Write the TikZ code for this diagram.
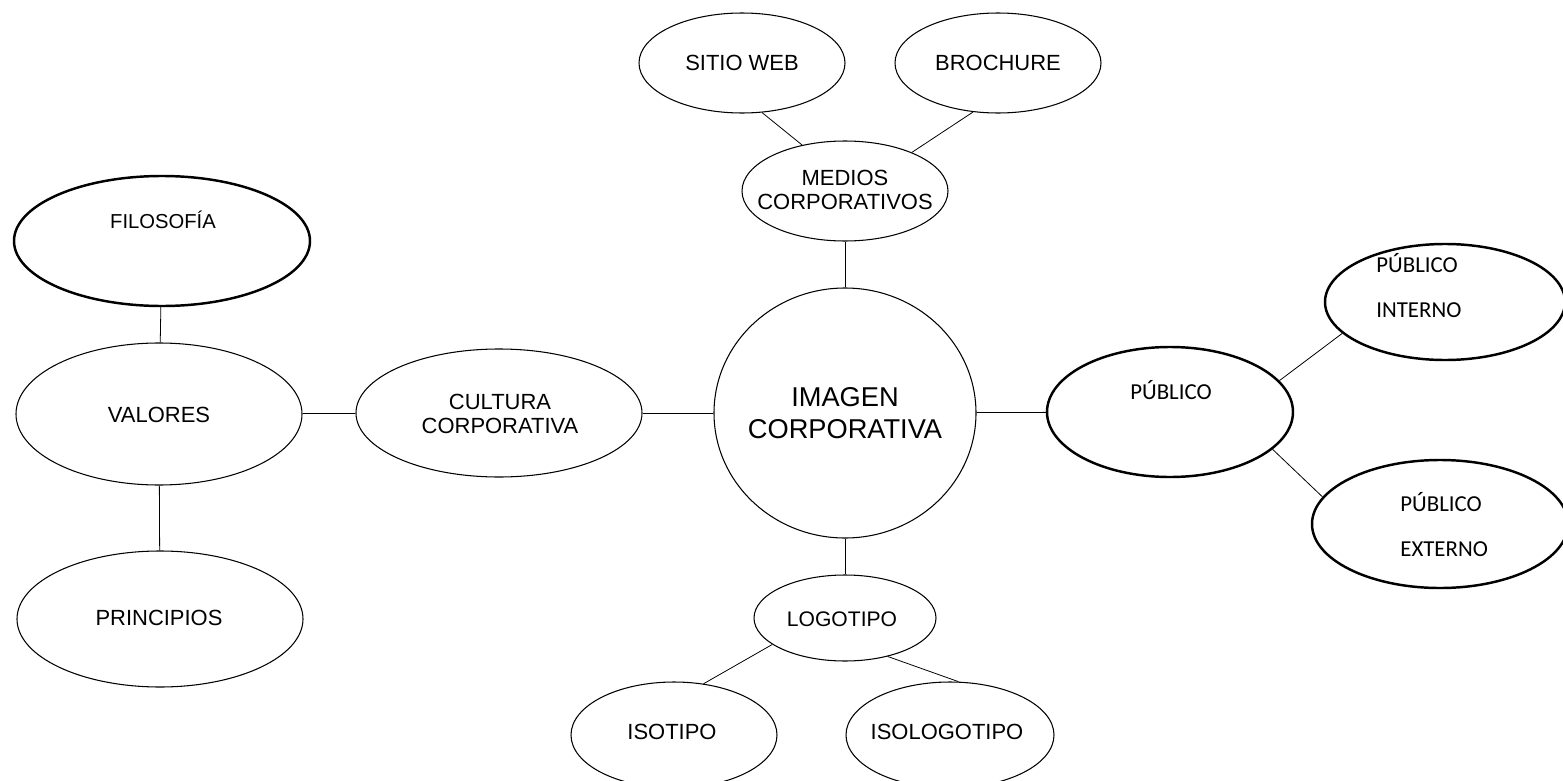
\documentclass[tikz,border=0pt]{standalone}
\usepackage{fontspec}
\setmainfont{Liberation Sans}
\newfontfamily\calibri{Carlito}
\usetikzlibrary{shapes.geometric}
\newcommand\pxu{0.02cm}
\tikzset{
	bubble/.style 2 args={draw,ellipse,inner sep=0pt,line width=0.6pt,
		minimum width=2*#1*\pxu,minimum height=2*#2*\pxu},
	heavy/.style={line width=1.4pt},
	lbl/.style={font=\fontsize{12.5}{14}\selectfont,align=center,inner sep=0pt},
	publbl/.style={font=\calibri\fontsize{13}{25.6}\selectfont,align=left,inner sep=0pt},
	link/.style={line width=0.45pt},
}
\begin{document}
\begin{tikzpicture}[x=0.02cm,y=-0.02cm]
	\useasboundingbox (0,0) rectangle (1563,781);
	% ellipses (name/x/y/rx/ry)
	\foreach \n/\x/\y/\a/\b in {sitio/742/63/103/50, broch/998/63/103/50,
			medios/845/191/103/50, imagen/845/413/131/125, cultura/499/413/143/64,
			valores/159/414/143/71, principios/160/619/143/68, logo/845/618/91/43,
			isotipo/674/735/103/53, isologo/950/735/104/53} {
			\node[bubble={\a}{\b}] (\n) at (\x,\y) {};
		}
	\foreach \n/\x/\y/\a/\b in {filosofia/162/241/148/65, publico/1170/412/123/65,
			interno/1445/302/120/58, externo/1440/524/128/64} {
			\node[bubble={\a}{\b},heavy] (\n) at (\x,\y) {};
		}
	% texts
	\node[lbl] (t-sitio) at (742,63) {SITIO WEB};
	\node[lbl] (t-broch) at (998,63) {BROCHURE};
	\node[lbl] (t-medios) at (845,190) {MEDIOS\\CORPORATIVOS};
	\node[lbl,font=\fontsize{15.5}{18.2}\selectfont] (t-imagen) at (845,413) {IMAGEN\\CORPORATIVA};
	\node[lbl] (t-cultura) at (500,414) {CULTURA\\CORPORATIVA};
	\node[lbl] (t-valores) at (159,415) {VALORES};
	\node[lbl,font=\fontsize{11.5}{14}\selectfont] (t-filosofia) at (163,220) {FILOSOFÍA};
	\node[lbl] (t-principios) at (159,618) {PRINCIPIOS};
	\node[lbl,font=\fontsize{12}{14}\selectfont] (t-logo) at (842,619) {LOGOTIPO};
	\node[lbl] (t-isotipo) at (672,732) {ISOTIPO};
	\node[lbl] (t-isologo) at (947,732) {ISOLOGOTIPO};
	\node[publbl] (t-publico) at (1171,390) {PÚBLICO};
	\node[publbl,anchor=west] (t-interno) at (1376,285.5) {PÚBLICO\\INTERNO};
	\node[publbl,anchor=west] (t-externo) at (1400,525) {PÚBLICO\\EXTERNO};
	% connectors
	\draw[link] (sitio.-68) -- (medios.133);
	\draw[link] (broch.-117) -- (medios.30);
	\draw[link] (medios) -- (imagen);
	\draw[link] (cultura) -- (imagen);
	\draw[link] (valores) -- (cultura);
	\draw[link] (filosofia) -- (valores);
	\draw[link] (valores) -- (principios);
	\draw[link] (imagen) -- (publico);
	\draw[link] (publico.16) -- (interno.-163);
	\draw[link] (publico.-20) -- (externo.167);
	\draw[link] (imagen) -- (logo);
	\draw[link] (logo.-160) -- (isotipo.60);
	\draw[link] (logo.-42) -- (isologo.81);
\end{tikzpicture}
\end{document}
